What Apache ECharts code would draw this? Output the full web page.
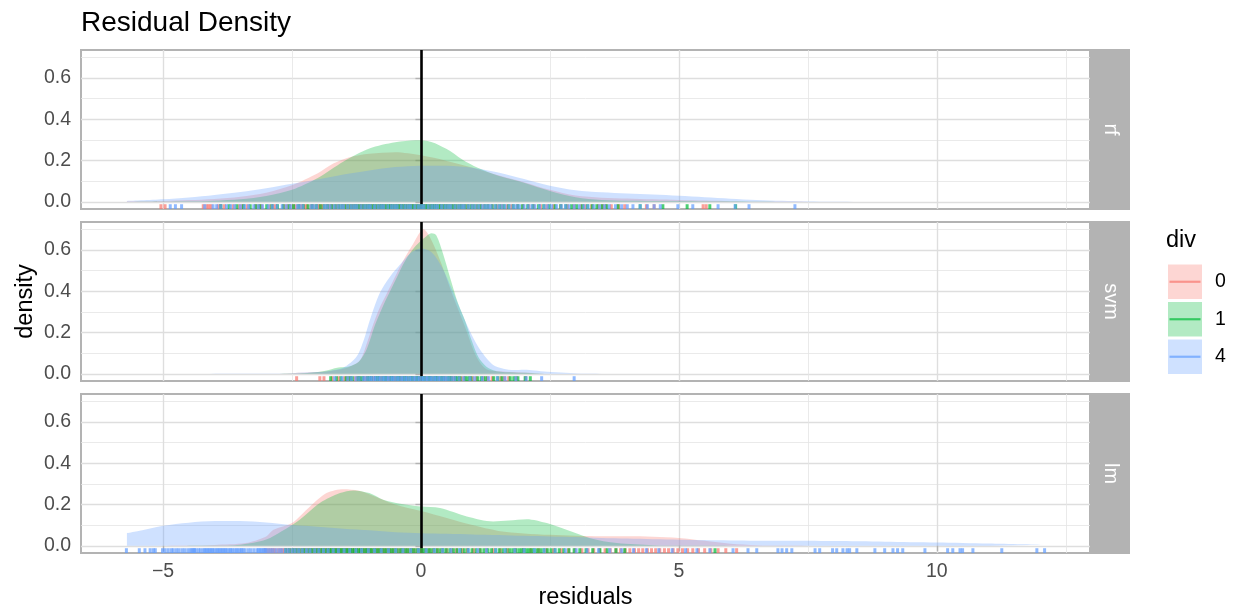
<!DOCTYPE html>
<html><head><meta charset="utf-8">
<script src="https://cdn.jsdelivr.net/npm/echarts@6/dist/echarts.min.js"></script>
<style>html,body{margin:0;padding:0;background:#fff}#c{width:1239px;height:610px}</style>
</head><body><div id="c"></div>
<script>
const panels = ['rf', 'svm', 'lm'];
const groups = ['0', '1', '4'];
const colors = ['#F8766D', '#00BA38', '#619CFF'];
const xTicks = [-5, 0, 5, 10];
const yTicks = [0, 0.2, 0.4, 0.6];

// density curves: [residual, density]
const rf_0 = [[-5.7,0.002],[-5,0.004],[-4.5,0.008],[-4,0.014],[-3.5,0.024],[-3,0.044],[-2.5,0.08],[-2,0.138],[-1.7,0.185],[-1.4,0.215],[-1,0.232],[-0.5,0.24],[0,0.225],[0.5,0.198],[1,0.165],[1.5,0.128],[2,0.095],[2.5,0.058],[3,0.03],[3.5,0.02],[4,0.016],[4.5,0.012],[5,0.009],[5.5,0.006],[6,0.003],[7,0.001],[8,0],[12.08,0]];
const rf_1 = [[-5.7,0],[-4.5,0.002],[-4,0.005],[-3.5,0.012],[-3,0.028],[-2.5,0.058],[-2,0.115],[-1.5,0.195],[-1,0.258],[-0.5,0.288],[-0.1,0.298],[0.2,0.29],[0.5,0.255],[0.8,0.205],[1.1,0.165],[1.5,0.126],[2,0.092],[2.5,0.052],[3,0.022],[3.5,0.009],[4,0.005],[5,0.004],[6,0.002],[7,0],[12.08,0]];
const rf_4 = [[-5.7,0.004],[-5,0.012],[-4.5,0.021],[-4,0.033],[-3.5,0.047],[-3,0.065],[-2.5,0.087],[-2,0.108],[-1.5,0.132],[-1,0.152],[-0.5,0.168],[0,0.175],[0.5,0.175],[1,0.165],[1.5,0.142],[2,0.11],[2.5,0.078],[3,0.056],[3.5,0.046],[4,0.04],[4.5,0.035],[5,0.029],[5.5,0.022],[6,0.015],[6.5,0.009],[7,0.005],[7.5,0.002],[8.5,0],[12.08,0]];
const svm_0 = [[-5.7,0],[-3,0],[-2.5,0.003],[-2,0.008],[-1.6,0.02],[-1.38,0.034],[-1.18,0.066],[-1.05,0.147],[-0.92,0.244],[-0.8,0.32],[-0.66,0.39],[-0.47,0.486],[-0.34,0.55],[-0.15,0.63],[0.05,0.7],[0.17,0.663],[0.37,0.55],[0.63,0.37],[0.85,0.23],[1.08,0.08],[1.27,0.022],[1.5,0.012],[1.8,0.008],[2.2,0.003],[2.6,0],[12.08,0]];
const svm_1 = [[-5.7,0],[-3,0],[-2.3,0.002],[-1.9,0.012],[-1.6,0.03],[-1.4,0.035],[-1.2,0.06],[-1.05,0.12],[-0.9,0.23],[-0.75,0.32],[-0.5,0.45],[-0.3,0.55],[-0.1,0.62],[0.1,0.665],[0.21,0.68],[0.3,0.67],[0.43,0.58],[0.56,0.47],[0.72,0.34],[0.85,0.26],[0.98,0.163],[1.11,0.082],[1.27,0.034],[1.47,0.012],[1.8,0.006],[2.1,0.004],[2.5,0],[12.08,0]];
const svm_4 = [[-5.7,0],[-3,0.001],[-2.5,0.003],[-2,0.008],[-1.75,0.015],[-1.5,0.03],[-1.25,0.082],[-1.1,0.17],[-0.99,0.26],[-0.8,0.39],[-0.6,0.47],[-0.4,0.53],[-0.2,0.585],[0,0.607],[0.2,0.59],[0.4,0.52],[0.6,0.41],[0.8,0.29],[1,0.18],[1.15,0.115],[1.4,0.042],[1.6,0.024],[1.8,0.018],[2,0.02],[2.2,0.016],[2.45,0.01],[2.8,0.005],[3.2,0.001],[4,0],[12.08,0]];
const lm_0 = [[-5.7,0],[-4.5,0.001],[-4,0.004],[-3.4,0.013],[-3,0.045],[-2.86,0.077],[-2.5,0.11],[-2.15,0.19],[-1.83,0.255],[-1.5,0.274],[-1.2,0.267],[-1,0.25],[-0.5,0.2],[0,0.168],[0.5,0.135],[1,0.1],[1.5,0.072],[2,0.06],[2.5,0.053],[3,0.048],[3.5,0.046],[4,0.046],[4.5,0.044],[5,0.038],[5.5,0.024],[6,0.01],[6.5,0.003],[7,0.001],[8,0],[12.08,0]];
const lm_1 = [[-5.7,0],[-4,0.001],[-3.5,0.005],[-3,0.03],[-2.7,0.07],[-2.35,0.126],[-1.96,0.207],[-1.57,0.255],[-1.31,0.268],[-1,0.255],[-0.73,0.223],[-0.4,0.203],[0,0.19],[0.37,0.183],[0.89,0.142],[1.4,0.118],[1.7,0.122],[2.05,0.129],[2.44,0.11],[2.82,0.077],[3.28,0.037],[3.8,0.013],[4.5,0.003],[5.5,0.001],[6.5,0],[12.08,0]];
const lm_4 = [[-5.7,0.061],[-5.5,0.07],[-5,0.097],[-4.5,0.112],[-4,0.12],[-3.5,0.12],[-3,0.113],[-2.5,0.1],[-2,0.092],[-1.5,0.083],[-1,0.075],[-0.5,0.066],[0,0.061],[0.5,0.058],[1,0.055],[1.5,0.052],[2,0.048],[2.5,0.045],[3,0.042],[3.5,0.038],[4,0.035],[5,0.029],[6,0.026],[7,0.024],[8,0.023],[9,0.02],[10,0.016],[11,0.011],[12.08,0.005]];

// rug residuals
const rug_rf_0 = [-5.04,-4.96,-4.22,-4.15,-4.07,-3.93,-3.81,-3.64,-3.52,-3.37,-3.21,-3.09,-2.93,-2.81,-2.66,-2.54,-2.42,-2.3,-2.21,-2.09,-1.98,-1.9,-1.79,-1.71,-1.6,-1.53,-1.44,-1.35,-1.27,-1.18,-1.11,-1.02,-0.94,-0.85,-0.77,-0.68,-0.61,-0.52,-0.44,-0.35,-0.27,-0.18,-0.09,0.02,0.11,0.21,0.3,0.42,0.53,0.66,0.78,0.91,1.07,1.22,1.38,1.57,1.76,1.98,2.19,2.44,2.71,2.97,3.18,3.44,3.58,3.69,3.83,3.95,4.37,4.52,5.47,5.53,
  -4.11,-3.88,-3.46,-3.14,-2.86,-2.6,-2.47,-2.35,-2.25,-2.13,-2.01,-1.94,-1.83,-1.75,-1.64,-1.49,-1.4,-1.31,-1.23,-1.15,-1.06,-0.98,-0.9,-0.81,-0.73,-0.57,-0.48,-0.4,-0.31,-0.23,-0.14,-0.05,0.07,0.16,0.26,0.36,0.48,0.6,0.72,0.85,0.99,1.15,1.3,1.48,1.67,1.87,2.09,2.32,2.57,2.84,3.1,3.31,3.52];
const rug_rf_1 = [-3.88,-3.57,-3.31,-3.12,-2.89,-2.67,-2.47,-2.28,-2.11,-1.95,-1.81,-1.66,-1.53,-1.41,-1.29,-1.19,-1.08,-0.99,-0.9,-0.8,-0.72,-0.63,-0.55,-0.46,-0.38,-0.3,-0.21,-0.13,-0.04,0.05,0.13,0.22,0.3,0.39,0.48,0.58,0.68,0.79,0.91,1.03,1.16,1.3,1.45,1.61,1.79,1.97,2.17,2.38,2.6,2.81,3.02,3.23,3.41,3.6,3.82,4.25,4.69,5.16,5.6,6.1,
  -3.72,-3.44,-3.2,-2.99,-2.78,-2.56,-2.37,-2.19,-2.03,-1.88,-1.73,-1.59,-1.47,-1.35,-1.24,-1.13,-1.03,-0.94,-0.85,-0.76,-0.67,-0.59,-0.5,-0.42,-0.34,-0.25,-0.17,-0.08,0.01,0.09,0.18,0.26,0.35,0.44,0.53,0.63,0.74,0.85,0.97,1.1,1.24,1.38,1.53,1.7,1.88,2.07,2.28,2.49,2.71,2.92,3.13,3.32,3.51];
const rug_rf_4 = [-4.86,-4.76,-4.64,-4.03,-3.88,-3.77,-3.61,-3.5,-3.34,-3.24,-3.07,-2.96,-2.79,-2.69,-2.53,-2.4,-2.29,-2.13,-2.02,-1.87,-1.76,-1.61,-1.5,-1.35,-1.24,-1.09,-0.98,-0.83,-0.72,-0.57,-0.46,-0.31,-0.2,-0.05,0.06,0.21,0.32,0.47,0.58,0.73,0.84,0.99,1.12,1.25,1.36,1.51,1.63,1.79,1.91,2.08,2.21,2.39,2.53,2.72,2.87,3.07,3.24,3.46,3.65,3.89,4.11,4.39,4.64,4.98,5.27,5.76,6.09,6.36,7.25,
  -4.19,-3.96,-3.69,-3.42,-3.15,-2.88,-2.61,-2.35,-2.08,-1.82,-1.68,-1.55,-1.42,-1.29,-1.16,-1.03,-0.9,-0.77,-0.64,-0.51,-0.38,-0.25,-0.12,0.01,0.14,0.27,0.4,0.53,0.66,0.79,0.92,1.05,1.19,1.31,1.44,1.57,1.71,1.85,2.0,2.15,2.3,2.46,2.63,2.8,2.97,3.16,3.35,3.56,3.77,4.0,4.25,4.52];
const rug_svm_0 = [-2.41,-1.96,-1.88,-1.72,-1.6,-1.48,-1.37,-1.28,-1.19,-1.11,-1.03,-0.96,-0.89,-0.82,-0.75,-0.69,-0.62,-0.56,-0.5,-0.44,-0.38,-0.32,-0.26,-0.2,-0.14,-0.08,-0.02,0.04,0.1,0.16,0.22,0.28,0.35,0.42,0.49,0.57,0.65,0.74,0.84,0.95,1.07,1.21,1.38,1.55,1.62,1.7,1.85,2.03,
  -1.42,-1.23,-1.07,-0.92,-0.79,-0.65,-0.53,-0.41,-0.29,-0.17,-0.05,0.07,0.19,0.31,0.45,0.61,0.79,1.0,1.29];
const rug_svm_1 = [-1.75,-1.64,-1.55,-1.45,-1.33,-1.22,-1.13,-1.04,-0.96,-0.88,-0.81,-0.74,-0.67,-0.6,-0.54,-0.47,-0.41,-0.35,-0.28,-0.22,-0.16,-0.1,-0.04,0.02,0.08,0.14,0.2,0.26,0.32,0.38,0.45,0.52,0.59,0.67,0.76,0.86,0.97,1.1,1.25,1.41,1.57,1.73,1.88,2.02,2.12,
  -1.38,-1.18,-1.0,-0.84,-0.7,-0.57,-0.44,-0.31,-0.19,-0.07,0.05,0.17,0.29,0.41,0.55,0.71,0.91,1.17,1.49,1.8];
const rug_svm_4 = [-1.67,-1.53,-1.42,-1.35,-1.26,-1.2,-1.12,-1.08,-1.03,-0.98,-0.95,-0.9,-0.87,-0.82,-0.79,-0.74,-0.71,-0.66,-0.63,-0.58,-0.55,-0.51,-0.46,-0.43,-0.38,-0.35,-0.3,-0.27,-0.22,-0.19,-0.14,-0.11,-0.06,-0.03,0.02,0.05,0.1,0.13,0.18,0.21,0.26,0.29,0.34,0.37,0.42,0.46,0.5,0.55,0.61,0.66,0.74,0.83,0.95,1.04,1.19,1.31,1.48,1.63,1.84,2.04,2.34,2.97];
const rug_lm_0 = [-3.02,-2.91,-2.83,-2.72,-2.64,-2.55,-2.46,-2.38,-2.29,-2.21,-2.14,-2.06,-1.99,-1.92,-1.85,-1.78,-1.71,-1.64,-1.57,-1.5,-1.43,-1.36,-1.29,-1.22,-1.14,-1.06,-0.98,-0.89,-0.8,-0.71,-0.61,-0.5,-0.38,-0.26,-0.13,0.01,0.16,0.32,0.5,0.69,0.9,1.14,1.4,1.68,1.98,2.28,2.57,2.86,3.12,3.35,3.57,3.78,3.96,4.14,4.3,4.47,4.63,4.8,4.98,5.17,5.38,5.62,5.91,6.12,
  -2.96,-2.87,-2.77,-2.68,-2.59,-2.5,-2.42,-2.33,-2.25,-2.17,-2.1,-2.02,-1.95,-1.88,-1.81,-1.74,-1.67,-1.6,-1.53,-1.46,-1.39,-1.32,-1.25,-1.18,-1.1,-1.02,-0.93,-0.84,-0.75,-0.66,-0.55,-0.44,-0.32,-0.19,-0.06,0.09,0.24,0.41,0.6,0.8,1.02,1.27,1.54,1.83,2.13,2.43,2.72,2.99,3.24,3.46,3.67,3.87,4.05,4.22,4.39,4.55,4.72,4.89,5.07,5.27,5.5,5.76];
const rug_lm_1 = [-2.62,-2.48,-2.36,-2.25,-2.14,-2.04,-1.95,-1.86,-1.77,-1.69,-1.61,-1.53,-1.45,-1.37,-1.29,-1.21,-1.13,-1.04,-0.95,-0.86,-0.77,-0.67,-0.57,-0.47,-0.36,-0.25,-0.14,-0.03,0.08,0.19,0.31,0.43,0.56,0.7,0.84,0.99,1.15,1.3,1.45,1.59,1.72,1.84,1.95,2.05,2.15,2.26,2.38,2.52,2.68,2.87,3.08,3.33,3.61,3.95,5.7,
  -2.55,-2.42,-2.3,-2.19,-2.09,-1.99,-1.9,-1.81,-1.73,-1.65,-1.57,-1.49,-1.41,-1.33,-1.25,-1.17,-1.08,-0.99,-0.9,-0.81,-0.72,-0.62,-0.52,-0.41,-0.3,-0.19,-0.08,0.03,0.14,0.25,0.37,0.49,0.63,0.77,0.91,1.07,1.22,1.37,1.52,1.65,1.78,1.9,2.0,2.1,2.2,2.32,2.45,2.6,2.77,2.97,3.2,3.47,3.78];
const rug_lm_4 = [-5.71,-5.46,-5.35,-5.25,-5.19,-5.15,-5.01,-4.96,-4.9,-4.84,-4.63,-4.58,-4.52,-4.47,-4.41,-4.36,-4.31,-4.22,-4.16,-4.1,-4.04,-3.97,-3.91,-3.85,-3.79,-3.72,-3.66,-3.58,-3.51,-3.45,-3.35,-3.18,-3.12,-3.06,-3.01,-2.92,-2.81,-2.7,-2.57,-2.44,-2.3,-2.15,-1.98,-1.8,-1.6,-1.38,-1.15,-0.9,-0.63,-0.35,-0.05,0.26,0.58,0.92,1.27,1.63,2.0,2.39,2.8,3.22,3.66,4.12,4.61,5.13,5.6,6.05,6.34,6.51,6.92,7.0,7.09,7.19,7.64,7.73,7.98,8.06,8.18,8.26,8.31,8.45,8.8,8.99,9.15,9.24,9.34,9.77,10.21,10.31,10.45,10.5,10.7,11.26,11.94,12.09,
  -4.8,-4.74,-4.69,-4.44,-4.39,-4.27,-4.19,-4.13,-4.07,-4.01,-3.94,-3.88,-3.82,-3.76,-3.69,-3.62,-3.55,-3.48,-3.41,-3.3,-3.24,-3.15,-3.09,-3.03,-2.97,-2.87,-2.75,-2.63,-2.5,-2.37,-2.22,-2.06,-1.89,-1.7,-1.49,-1.26,-1.02,-0.77,-0.49,-0.2,0.1,0.42,0.75,1.1,1.45,1.82,2.2,2.6,3.01,3.44,3.89,4.37,4.87,5.35];

const densities = { rf: [rf_0, rf_1, rf_4], svm: [svm_0, svm_1, svm_4], lm: [lm_0, lm_1, lm_4] };
const rugs = { rf: [rug_rf_0, rug_rf_1, rug_rf_4], svm: [rug_svm_0, rug_svm_1, rug_svm_4], lm: [rug_lm_0, rug_lm_1, rug_lm_4] };

const FONT = '"Liberation Sans", Arial, Helvetica, sans-serif';
const X_MIN = -6.59, X_MAX = 12.97, Y_MIN = -0.035, Y_MAX = 0.735;
const GRID_L = 81, GRID_W = 1009, GRID_H = 159, GRID_TOPS = [50, 222, 394];
const RUG_Y = Y_MIN + (Y_MAX - Y_MIN) * 0.015;

const grid = panels.map((p, i) => ({ left: GRID_L, top: GRID_TOPS[i], width: GRID_W, height: GRID_H,
  show: true, borderColor: '#B3B3B3', borderWidth: 2, backgroundColor: 'transparent' }));

const minusFmt = v => String(v).replace('-', '\u2212');
const xAxis = panels.map((p, i) => ({
  type: 'value', gridIndex: i, min: X_MIN, max: X_MAX, splitNumber: 4, minInterval: 5, maxInterval: 5,
  axisLine: { show: false },
  axisTick: { show: i === 2, length: 5.5, lineStyle: { color: '#B3B3B3', width: 1.4 }, customValues: xTicks },
  axisLabel: { show: i === 2, customValues: xTicks, formatter: minusFmt, color: '#4D4D4D', fontSize: 19.5, margin: 9, fontFamily: FONT },
  splitLine: { show: true, lineStyle: { color: '#DEDEDE', width: 1.4 } },
  minorTick: { show: false, splitNumber: 2 },
  minorSplitLine: { show: true, lineStyle: { color: '#E4E4E4', width: 0.8 } }
}));
const yAxis = panels.map((p, i) => ({
  type: 'value', gridIndex: i, min: Y_MIN, max: Y_MAX, splitNumber: 4, minInterval: 0.2, maxInterval: 0.2,
  axisLine: { show: false },
  axisTick: { show: true, length: 5.5, lineStyle: { color: '#B3B3B3', width: 1.4 }, customValues: yTicks },
  axisLabel: { show: true, customValues: yTicks, formatter: v => v.toFixed(1), color: '#4D4D4D', fontSize: 19.5, margin: 10, fontFamily: FONT },
  splitLine: { show: true, lineStyle: { color: '#DEDEDE', width: 1.4 } },
  minorTick: { show: false, splitNumber: 2 },
  minorSplitLine: { show: true, lineStyle: { color: '#E4E4E4', width: 0.8 } }
}));

const series = [];
panels.forEach((p, i) => {
  densities[p].forEach((d, g) => {
    const s = { type: 'line', name: groups[g], xAxisIndex: i, yAxisIndex: i, data: d, showSymbol: false, symbol: 'none',
      smooth: 0.3, lineStyle: { width: 0, opacity: 0 }, areaStyle: { color: colors[g], opacity: 0.3 }, z: 2, silent: true };
    if (g === 2) {
      s.markLine = { silent: true, symbol: ['none', 'none'], z: 3, label: { show: false },
        lineStyle: { color: '#000', width: 2.6, type: 'solid' }, data: [{ xAxis: 0 }] };
    }
    series.push(s);
  });
  rugs[p].forEach((r, g) => {
    series.push({ type: 'scatter', xAxisIndex: i, yAxisIndex: i, data: r.map(v => [v, RUG_Y]), symbol: 'rect',
      symbolSize: [3, 4.8], itemStyle: { color: colors[g], opacity: 0.7 }, z: 6, silent: true });
  });
});

const graphic = [];
graphic.push({ type: 'text', x: 81, y: 23, style: { text: 'Residual Density', font: '28px ' + FONT, fill: '#000', align: 'left', verticalAlign: 'middle' } });
graphic.push({ type: 'text', x: 585.5, y: 598, style: { text: 'residuals', font: '23.5px ' + FONT, fill: '#000', align: 'center', verticalAlign: 'middle' } });
graphic.push({ type: 'text', x: 26, y: 301.5, rotation: Math.PI / 2, style: { text: 'density', font: '23.5px ' + FONT, fill: '#000', align: 'center', verticalAlign: 'middle' } });
panels.forEach((p, i) => {
  graphic.push({ type: 'rect', shape: { x: 1091, y: GRID_TOPS[i] - 1, width: 39, height: GRID_H + 2 }, style: { fill: '#B3B3B3' } });
  graphic.push({ type: 'text', x: 1110.5, y: GRID_TOPS[i] + GRID_H / 2, rotation: -Math.PI / 2,
    style: { text: p, font: '20px ' + FONT, fill: '#FFFFFF', align: 'center', verticalAlign: 'middle' } });
});
graphic.push({ type: 'text', x: 1166, y: 241, style: { text: 'div', font: '23.5px ' + FONT, fill: '#000', align: 'left', verticalAlign: 'middle' } });
const keyTops = [264.5, 302, 339.5];
groups.forEach((g, k) => {
  graphic.push({ type: 'rect', shape: { x: 1168, y: keyTops[k], width: 34, height: 34.5 }, style: { fill: colors[k], opacity: 0.3 } });
  graphic.push({ type: 'line', shape: { x1: 1169.5, y1: keyTops[k] + 17.25, x2: 1200.5, y2: keyTops[k] + 17.25 }, style: { stroke: colors[k], lineWidth: 2.2, opacity: 0.7 } });
  graphic.push({ type: 'text', x: 1215, y: keyTops[k] + 17.5, style: { text: g, font: '19.5px ' + FONT, fill: '#000', align: 'left', verticalAlign: 'middle' } });
});

const chart = echarts.init(document.getElementById('c'));
chart.setOption({ backgroundColor: '#fff', animation: false, grid, xAxis, yAxis, series, graphic });
</script></body></html>
